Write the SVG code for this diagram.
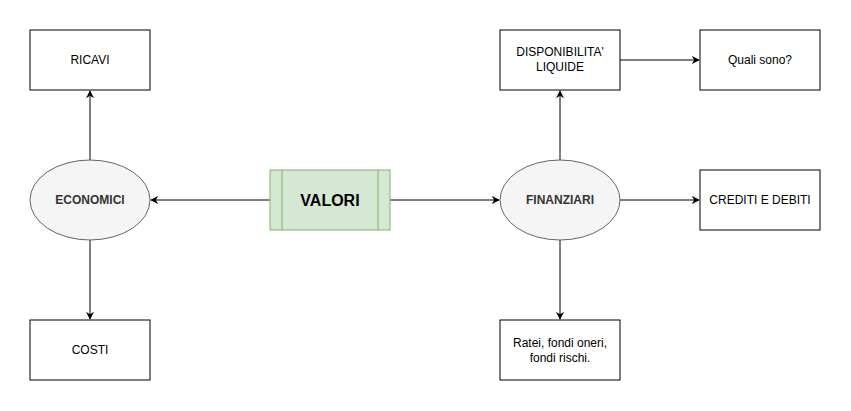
<svg xmlns="http://www.w3.org/2000/svg" width="851" height="411" viewBox="0 0 851 411">
<defs>
<marker id="arr" viewBox="0 0 10 10" refX="9" refY="5" markerWidth="8" markerHeight="8" markerUnits="userSpaceOnUse" orient="auto">
<path d="M0,0 L10,5 L0,10 L3,5 Z" fill="#000"/>
</marker>
<style>
.box{fill:#fff;stroke:#000;stroke-width:1}
.ell{fill:#f5f5f5;stroke:#666;stroke-width:1}
.t{font-family:"Liberation Sans",Arial,sans-serif;font-size:12px;fill:#000;text-anchor:middle;dominant-baseline:central}
.te{font-family:"Liberation Sans",Arial,sans-serif;font-size:12px;font-weight:bold;fill:#333;text-anchor:middle;dominant-baseline:central}
.c{stroke:#000;stroke-width:1;fill:none;marker-end:url(#arr)}
</style>
</defs>
<rect width="851" height="411" fill="#fff"/>
<g id="connectors">
<line class="c" x1="270" y1="200" x2="151" y2="200"/>
<line class="c" x1="390" y1="200" x2="499" y2="200"/>
<line class="c" x1="90" y1="160" x2="90" y2="91"/>
<line class="c" x1="90" y1="240" x2="90" y2="319"/>
<line class="c" x1="560" y1="160" x2="560" y2="91"/>
<line class="c" x1="620" y1="200" x2="699" y2="200"/>
<line class="c" x1="560" y1="240" x2="560" y2="319"/>
<line class="c" x1="620" y1="60" x2="699" y2="60"/>
</g>
<g id="valori">
<rect x="270" y="170" width="120" height="60" fill="#d5e8d4" stroke="#82b366"/>
<line x1="282" y1="170" x2="282" y2="230" stroke="#82b366"/>
<line x1="378" y1="170" x2="378" y2="230" stroke="#82b366"/>
<text x="330" y="200" font-family="Liberation Sans,Arial,sans-serif" font-size="16" font-weight="bold" text-anchor="middle" dominant-baseline="central" fill="#000">VALORI</text>
</g>
<g id="economici">
<ellipse class="ell" cx="90" cy="200" rx="60" ry="40"/>
<text class="te" x="90" y="200">ECONOMICI</text>
</g>
<g id="finanziari">
<ellipse class="ell" cx="560" cy="200" rx="60" ry="40"/>
<text class="te" x="560" y="200">FINANZIARI</text>
</g>
<g id="ricavi">
<rect class="box" x="30" y="30" width="120" height="60"/>
<text class="t" x="90" y="60">RICAVI</text>
</g>
<g id="costi">
<rect class="box" x="30" y="320" width="120" height="60"/>
<text class="t" x="90" y="350">COSTI</text>
</g>
<g id="disponibilita">
<rect class="box" x="500" y="30" width="120" height="60"/>
<text class="t" x="560" y="52">DISPONIBILITA'</text>
<text class="t" x="560" y="67">LIQUIDE</text>
</g>
<g id="quali">
<rect class="box" x="700" y="30" width="120" height="60"/>
<text class="t" x="760" y="60">Quali sono?</text>
</g>
<g id="crediti">
<rect class="box" x="700" y="170" width="120" height="60"/>
<text class="t" x="760" y="200">CREDITI E DEBITI</text>
</g>
<g id="ratei">
<rect class="box" x="500" y="320" width="120" height="60"/>
<text class="t" x="560" y="343">Ratei, fondi oneri,</text>
<text class="t" x="560" y="358">fondi rischi.</text>
</g>
</svg>
